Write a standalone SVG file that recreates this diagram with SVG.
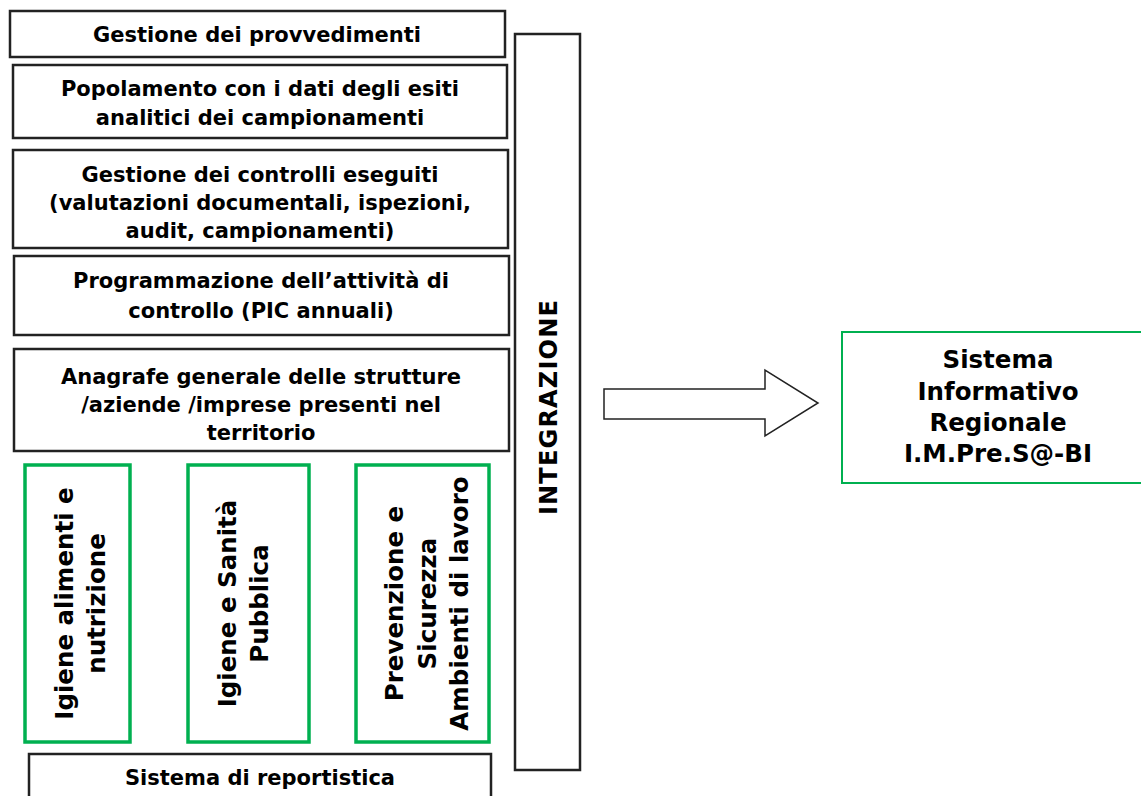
<svg xmlns="http://www.w3.org/2000/svg" width="1141" height="796" viewBox="0 0 1141 796">
<style>
.b{fill:#fff;stroke:#222;stroke-width:2.5}
.g{fill:#fff;stroke:#00b050;stroke-width:3.5}
.t{font-family:"DejaVu Sans",Verdana,sans-serif;font-weight:bold;font-size:21px;fill:#000;text-anchor:middle}
.L{font-size:24.5px}
</style>
<rect width="1141" height="796" fill="#fff"/>
<g id="n1"><rect class="b" x="10" y="11" width="495" height="46"/><text class="t" x="257" y="42">Gestione dei provvedimenti</text></g>
<g id="n2"><rect class="b" x="13" y="65" width="494" height="73"/><text class="t" x="260" y="96">Popolamento con i dati degli esiti</text><text class="t" x="260" y="125">analitici dei campionamenti</text></g>
<g id="n3"><rect class="b" x="13" y="150" width="495" height="98"/><text class="t" x="260" y="182">Gestione dei controlli eseguiti</text><text class="t" x="260" y="210">(valutazioni documentali, ispezioni,</text><text class="t" x="260" y="238">audit, campionamenti)</text></g>
<g id="n4"><rect class="b" x="14" y="256" width="495" height="79"/><text class="t" x="261" y="288">Programmazione dell’attività di</text><text class="t" x="261" y="318">controllo (PIC annuali)</text></g>
<g id="n5"><rect class="b" x="14" y="349" width="495" height="102"/><text class="t" x="261" y="384">Anagrafe generale delle strutture</text><text class="t" x="261" y="412">/aziende /imprese presenti nel</text><text class="t" x="261" y="440">territorio</text></g>
<g id="n6"><rect class="g" x="25" y="465" width="105" height="277"/><text class="t L" transform="translate(77.5,603.5) rotate(-90)"><tspan x="0" y="-5">Igiene alimenti e</tspan><tspan x="0" y="27.5">nutrizione</tspan></text></g>
<g id="n7"><rect class="g" x="188" y="465" width="121" height="277"/><text class="t L" transform="translate(248,603.5) rotate(-90)"><tspan x="0" y="-12">Igiene e Sanità</tspan><tspan x="0" y="20">Pubblica</tspan></text></g>
<g id="n8"><rect class="g" x="356" y="465" width="133" height="277"/><text class="t L" transform="translate(422,603.5) rotate(-90)"><tspan x="0" y="-19">Prevenzione e</tspan><tspan x="0" y="14">Sicurezza</tspan><tspan x="0" y="46">Ambienti di lavoro</tspan></text></g>
<g id="n9"><rect class="b" x="29" y="754" width="462" height="50"/><text class="t" x="260" y="785">Sistema di reportistica</text></g>
<g id="n10"><rect class="b" x="515" y="34" width="65" height="736"/><text class="t" style="font-size:24px;letter-spacing:1.2px" transform="translate(557,407) rotate(-90)">INTEGRAZIONE</text></g>
<g id="n11"><rect class="g" x="842" y="332" width="310" height="151" style="stroke-width:2"/><text class="t L" x="998" y="368">Sistema</text><text class="t L" x="998" y="400">Informativo</text><text class="t L" x="998" y="431">Regionale</text><text class="t L" x="998" y="462">I.M.Pre.S@-BI</text></g>
<g id="connectors"><polygon points="604,389 765,389 765,370 818,403 765,436 765,419 604,419" fill="#fff" stroke="#222" stroke-width="1.5"/></g>
</svg>
